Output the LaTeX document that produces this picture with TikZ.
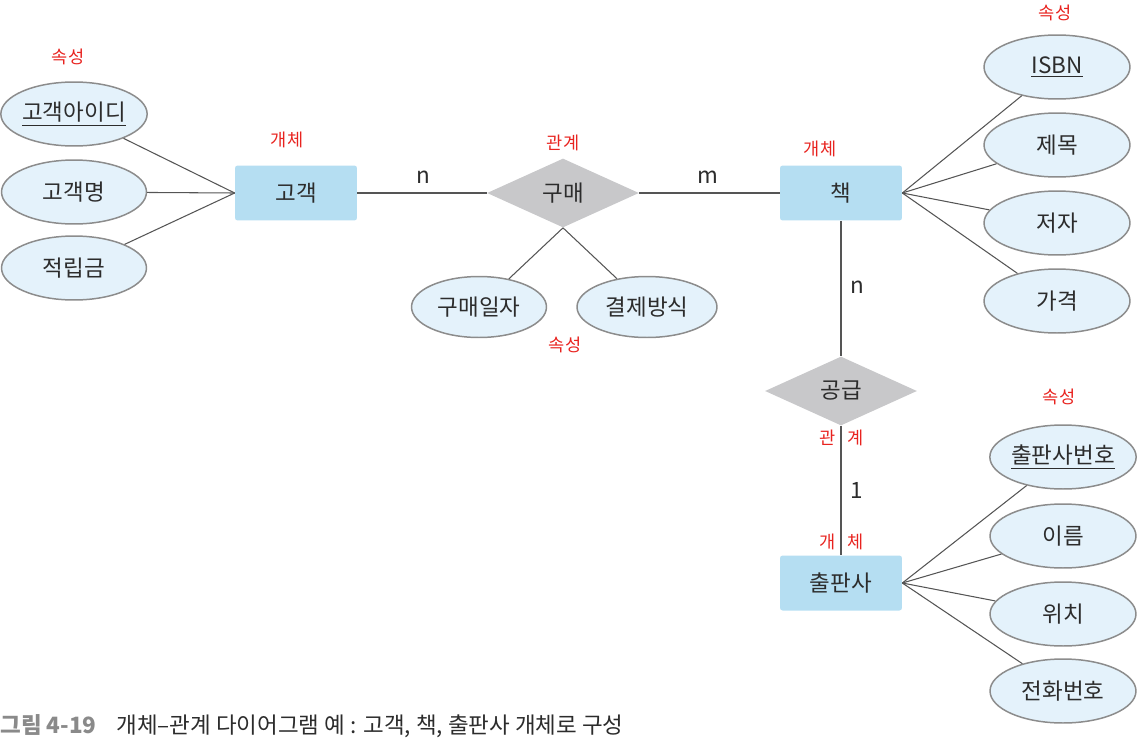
\documentclass[tikz,border=0pt]{standalone}
\usepackage{fontspec}
\setmainfont{Noto Sans CJK KR}
\usetikzlibrary{shapes.geometric}
\definecolor{entfill}{HTML}{B5DEF2}
\definecolor{attfill}{HTML}{E4F2FB}
\definecolor{attline}{HTML}{8C8C8C}
\definecolor{relfill}{HTML}{C8C8CA}
\definecolor{txt}{HTML}{2C2C2C}
\definecolor{lnk}{HTML}{555555}
\definecolor{notered}{HTML}{E8231F}
\definecolor{capgray}{HTML}{8A8A8A}
\begin{document}
\begin{tikzpicture}[x=0.02cm,y=-0.02cm,
		font=\fontsize{12.8}{14}\selectfont,text=txt,
		ent/.style={rectangle,rounded corners=1.5pt,fill=entfill,minimum width=2.44cm,minimum height=1.1cm,inner sep=0pt},
		att/.style={ellipse,draw=attline,line width=0.85pt,fill=attfill,minimum width=2.92cm,minimum height=1.28cm,inner sep=0pt},
		rel/.style={diamond,aspect=2.2,fill=relfill,minimum width=3.04cm,minimum height=1.38cm,inner sep=0pt},
		link/.style={draw=lnk,line width=0.6pt},
		note/.style={text=notered,font=\fontsize{10}{11}\selectfont}]
	\useasboundingbox (0,0) rectangle (1147,751);
	% entities and relations
	\node[ent] (cust) at (296,193) {고객};
	\node[ent] (book) at (841,193) {책};
	\node[ent] (pub) at (841,583) {출판사};
	\node[rel] (buy) at (563,193) {구매};
	\node[rel] (supp) at (841,391) {공급};
	% attributes
	\node[att,minimum width=2.9cm] (cid) at (74,114) {\underline{고객아이디}};
	\node[att,minimum width=2.9cm] (cname) at (74,192) {고객명};
	\node[att,minimum width=2.9cm] (cpt) at (74,268) {적립금};
	\node[att,minimum width=2.7cm,minimum height=1.22cm] (bdate) at (479,307) {구매일자};
	\node[att,minimum width=2.8cm,minimum height=1.22cm] (bpay) at (647,307) {결제방식};
	\node[att] (isbn) at (1057,67) {\underline{ISBN}};
	\node[att] (title) at (1057,145) {제목};
	\node[att] (author) at (1057,223) {저자};
	\node[att] (price) at (1057,301) {가격};
	\node[att] (pno) at (1063,457) {\underline{출판사번호}};
	\node[att] (pname) at (1063,536) {이름};
	\node[att] (ploc) at (1063,614) {위치};
	\node[att] (ptel) at (1063,691) {전화번호};
	% connectors
	\foreach \a in {cid,cname,cpt} \draw[link] (\a) -- (cust.west);
	\draw[link] (cust) -- (buy) -- (book);
	\draw[link] (buy.south) -- (bdate) (buy.south) -- (bpay);
	\draw[link] (book) -- (supp) -- (pub);
	\foreach \a in {isbn,title,author,price} \draw[link] (book.east) -- (\a);
	\foreach \a in {pno,pname,ploc,ptel} \draw[link] (pub.east) -- (\a);
	% cardinalities
	\node (card1) at (423,177) {n};
	\node (card2) at (708,177) {m};
	\node (card3) at (857,287) {n};
	\node (card4) at (857,490) {1};
	% handwritten notes
	\node[note] (note1) at (68,57) {속성};
	\node[note] (note2) at (287,140) {개체};
	\node[note] (note3) at (563,143) {관계};
	\node[note] (note4) at (565,345) {속성};
	\node[note] (note5) at (820,149) {개체};
	\node[note] (note6) at (1055,13) {속성};
	\node[note] (note7) at (1059,397) {속성};
	\node[note] (note8) at (828,438) {관};
	\node[note] (note9) at (856,438) {계};
	\node[note] (note10) at (828,542) {개};
	\node[note] (note11) at (856,542) {체};
	% caption
	\node[anchor=base west,inner sep=0pt,text=capgray,font=\fontsize{12.8}{14}\selectfont\bfseries] (cap1) at (0,733) {그림 4-19};
	\node[anchor=base west,inner sep=0pt] (cap2) at (116,733) {개체–관계 다이어그램 예 : 고객, 책, 출판사 개체로 구성};
\end{tikzpicture}
\end{document}
